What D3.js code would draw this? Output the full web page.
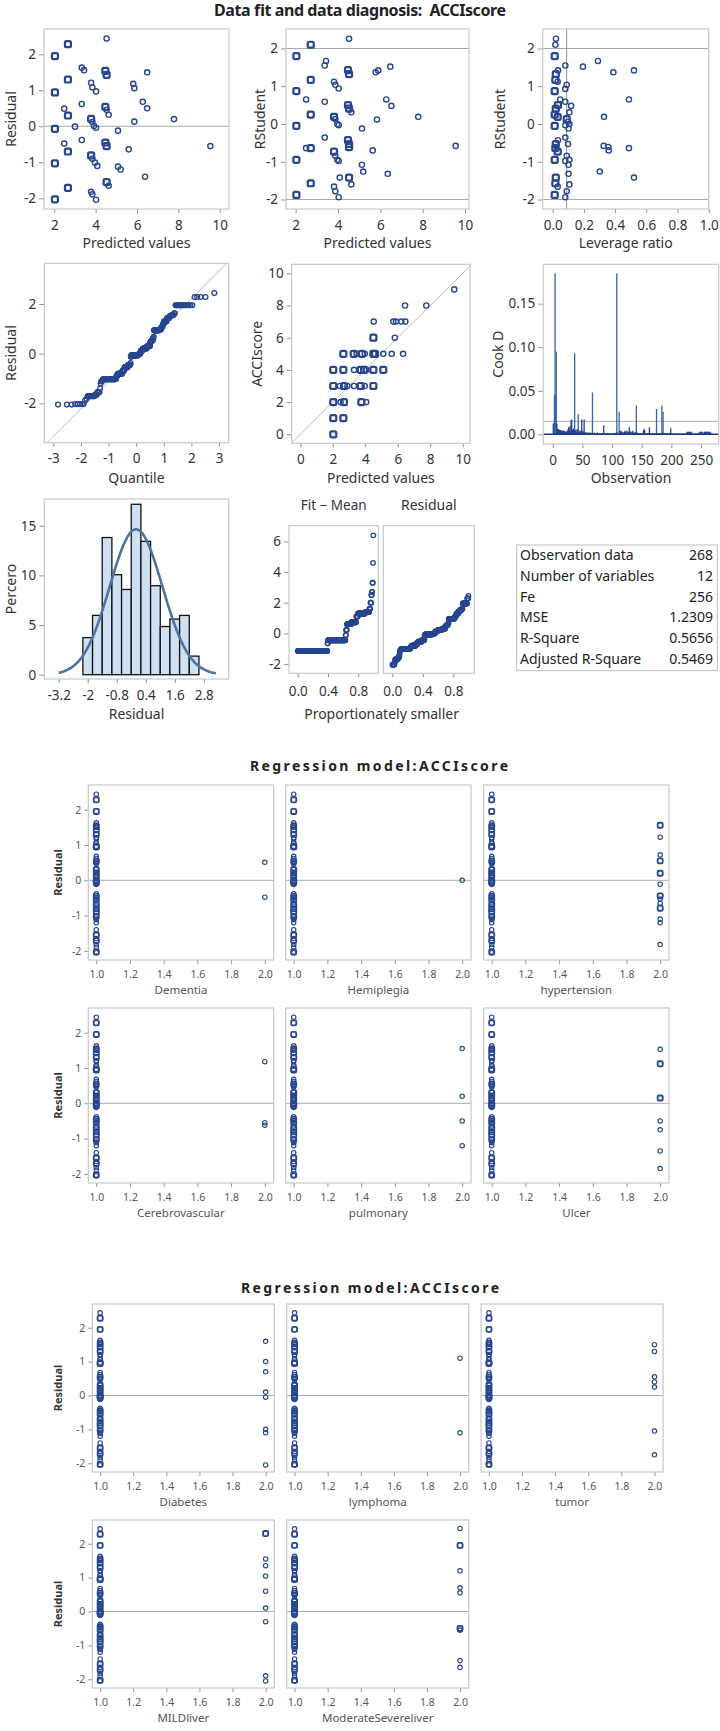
<!DOCTYPE html>
<html><head><meta charset="utf-8">
<script src="https://cdn.jsdelivr.net/npm/d3@7"></script>
<style>body{margin:0;background:#fff}</style>
</head><body>
<script>
// ---------------- DATA ----------------
// Panel 1: predicted vs residual (n = overlapping observations)
const p1Pred  = [2.03,2.03,2.03,2.03,2.03,2.66,2.66,2.66,2.66,2.66,2.48,2.48,3.0,3.33,3.44,3.33,3.33,3.78,3.84,4.02,3.78,3.84,3.92,4.02,3.78,3.84,3.97,4.08,3.78,3.84,4.02,4.53,4.47,4.53,4.47,4.53,4.63,4.47,4.53,4.53,4.63,5.08,5.08,5.21,5.6,5.82,5.87,5.87,6.28,6.49,6.49,6.39,7.79,9.55];
const p1Resid = [1.95,0.94,-0.07,-1.03,-2.03,2.28,1.3,0.3,-0.7,-1.71,0.49,-0.48,-0.01,1.63,1.56,0.62,-0.38,1.21,1.08,0.97,0.21,0.12,0.01,-0.04,-0.81,-0.9,-1.01,-1.1,-1.82,-1.89,-2.04,2.44,1.54,1.43,0.54,0.46,0.32,-0.45,-0.55,-1.55,-1.65,-0.12,-1.12,-1.2,-0.64,1.18,1.06,0.13,0.68,1.5,0.5,-1.4,0.2,-0.55];
const p1N     = [5,5,5,5,5,4,4,4,4,4,1,1,1,1,1,1,1,1,1,1,3,1,1,1,3,1,1,1,1,1,1,1,3,3,3,1,1,3,3,3,1,1,1,1,1,1,1,1,1,1,1,1,1,1];
// Panel 2: predicted vs RStudent
const p2Pred  = [2.03,2.03,2.03,2.03,2.03,2.71,2.71,2.71,2.49,2.71,2.71,2.49,3.43,3.37,3.37,3.37,3.81,3.87,4.03,3.81,3.87,3.97,4.03,3.81,3.87,3.97,4.03,4.08,3.81,3.87,4.03,4.52,4.47,4.52,4.47,4.52,4.63,4.47,4.52,4.52,4.52,4.63,5.13,5.13,5.19,5.64,5.78,5.9,5.84,6.28,6.52,6.47,6.35,7.79,9.56];
const p2RStud = [1.8,0.87,-0.05,-0.95,-1.88,2.1,1.17,0.25,-0.64,-0.64,-1.57,0.65,1.67,1.55,0.59,-0.36,1.12,1.04,0.94,0.19,0.13,0.0,-0.03,-0.73,-0.84,-0.95,-0.98,-1.42,-1.66,-1.78,-1.94,2.26,1.43,1.32,0.5,0.41,0.31,-0.43,-0.53,-0.61,-1.42,-1.6,-0.12,-1.08,-1.26,-0.7,1.37,1.42,0.12,0.65,0.48,1.52,-1.32,0.19,-0.58];
const p2N     = [5,5,5,5,5,4,4,4,1,4,4,1,1,1,1,1,1,1,1,3,1,1,1,3,1,1,1,1,1,1,1,1,3,3,3,3,1,3,3,3,3,1,1,1,1,1,1,1,1,1,1,1,1,1,1];
// Panel 3: leverage vs RStudent
const p3Lev   = [0.021,0.017,0.013,0.013,0.013,0.013,0.013,0.081,0.034,0.02,0.017,0.032,0.09,0.081,0.048,0.081,0.034,0.02,0.118,0.107,0.013,0.032,0.09,0.098,0.107,0.081,0.102,0.081,0.034,0.098,0.02,0.017,0.032,0.09,0.081,0.107,0.102,0.102,0.107,0.02,0.017,0.032,0.09,0.081,0.194,0.29,0.389,0.521,0.489,0.329,0.327,0.357,0.359,0.489,0.302,0.521];
const p3RStud = [2.26,2.1,1.8,0.87,-0.05,-0.95,-1.88,1.55,1.42,1.32,1.17,1.12,1.04,0.93,0.65,0.59,0.5,0.41,0.48,0.31,0.25,0.19,0.13,0.06,0.0,-0.03,-0.12,-0.36,-0.43,-0.53,-0.53,-0.64,-0.73,-0.84,-0.98,-0.95,-1.08,-1.32,-1.6,-1.42,-1.57,-1.66,-1.78,-1.94,1.52,1.67,1.37,1.42,0.65,0.19,-0.58,-0.61,-0.7,-0.64,-1.26,-1.42];
const p3N     = [1,1,5,5,5,5,5,1,1,3,3,1,1,1,1,1,3,3,1,1,3,3,3,1,1,1,1,1,1,1,3,3,3,1,1,1,1,1,1,3,3,1,1,1,1,1,1,1,1,1,1,1,1,1,1,1];
const levCut = 0.0896;
// Residual distribution (levels and number of observations at each level)
const residLevels = [-2.05,-2.03,-1.89,-1.82,-1.71,-1.65,-1.55,-1.4,-1.2,-1.12,-1.1,-1.03,-1.01,-0.9,-0.81,-0.7,-0.64,-0.55,-0.48,-0.45,-0.38,-0.12,-0.07,-0.04,-0.01,0.01,0.12,0.13,0.2,0.21,0.3,0.32,0.46,0.49,0.5,0.54,0.62,0.68,0.94,0.97,1.06,1.08,1.18,1.21,1.3,1.43,1.5,1.54,1.56,1.63,1.95,2.28,2.44];
const residCounts = [3,5,1,1,8,3,4,1,1,1,2,31,2,4,15,6,2,12,2,8,1,2,25,4,3,4,5,3,1,14,10,2,2,2,1,4,2,1,16,5,2,2,1,2,6,5,2,4,2,2,16,4,1];
const rootMSE = 1.1095;
// Panel 5: predicted vs ACCIscore
const p5Pred  = [9.48,6.45,7.76,4.52,5.73,5.89,6.22,6.47,4.5,5.82,2.65,3.29,3.47,3.8,3.97,4.5,4.6,5.11,5.63,6.33,2.03,2.65,3.31,3.72,3.93,4.06,4.5,5.11,2.03,2.44,2.69,2.9,3.31,3.72,3.97,4.5,2.03,2.48,2.69,3.76,4.06,2.03,2.65,2.03];
const p5Score = [9,8,8,7,7,7,7,7,6,6,5,5,5,5,5,5,5,5,5,5,4,4,4,4,4,4,4,4,3,3,3,3,3,3,3,3,2,2,2,2,2,1,1,0];
const p5N     = [1,1,1,1,1,1,1,1,3,1,3,3,1,3,1,3,3,1,1,1,3,3,1,3,3,1,3,3,3,1,3,1,1,3,1,3,3,1,3,3,1,3,3,3];
// Panel 6: Cook's D by observation (1..268)
const cookD = [0.012,0.013,0.045,0.185,0.046,0.095,0.012,0.006,0.005,0.006,
0.004,0.005,0.004,0.005,0.004,0.004,0.003,0.004,0.003,0.004,
0.003,0.002,0.003,0.004,0.002,0.006,0.008,0.004,0.009,0.003,
0.016,0.017,0.005,0.004,0.007,0.006,0.093,0.005,0.004,0.003,
0.006,0.004,0.023,0.005,0.003,0.002,0.004,0.003,0.017,0.002,
0.004,0.002,0.017,0.003,0.002,0.001,0.002,0.001,0.002,0.001,
0.002,0.001,0.001,0.002,0.001,0.001,0.048,0.001,0.001,0.002,
0.001,0.001,0.001,0.001,0.002,0.001,0.001,0.001,0.001,0.001,
0.001,0.001,0.001,0.001,0.001,0.010,0.001,0.001,0.001,0.001,
0.001,0.001,0.001,0.001,0.001,0.001,0.001,0.001,0.001,0.001,
0.001,0.001,0.001,0.001,0.001,0.001,0.002,0.185,0.002,0.001,
0.001,0.026,0.004,0.003,0.004,0.002,0.003,0.002,0.001,0.002,
0.003,0.004,0.002,0.003,0.004,0.002,0.001,0.003,0.008,0.004,
0.002,0.003,0.001,0.002,0.004,0.002,0.001,0.002,0.001,0.003,
0.033,0.002,0.001,0.001,0.001,0.001,0.001,0.001,0.001,0.001,
0.001,0.001,0.004,0.006,0.005,0.001,0.001,0.001,0.001,0.001,
0.001,0.001,0.008,0.001,0.001,0.001,0.001,0.001,0.001,0.001,
0.001,0.001,0.001,0.001,0.029,0.001,0.001,0.001,0.001,0.001,
0.001,0.001,0.001,0.033,0.002,0.026,0.001,0.001,0.001,0.001,
0.001,0.001,0.001,0.001,0.001,0.001,0.001,0.001,0.007,0.001,
0.0005,0.0005,0.0005,0.0005,0.0005,0.0005,0.0005,0.0005,0.0005,0.0005,
0.0005,0.0005,0.0005,0.0005,0.0005,0.0005,0.0005,0.0005,0.0005,0.0005,
0.0005,0.0005,0.0005,0.0005,0.0005,0.002,0.003,0.002,0.003,0.002,
0.003,0.002,0.003,0.002,0.0005,0.0005,0.0005,0.0005,0.0005,0.0005,
0.0005,0.0005,0.0005,0.0005,0.0005,0.0005,0.002,0.003,0.002,0.003,
0.002,0.003,0.0005,0.0005,0.002,0.003,0.003,0.002,0.003,0.003,
0.002,0.003,0.003,0.002,0.003,0.002,0.001,0.0005];
const cookCut = 0.0149;
// Panel 7: histogram of residuals (percent per bin)
const histStart = -2.2, histWidth = 0.4;
const histPct = [3.73,5.97,13.81,10.07,8.58,17.16,13.43,8.96,4.85,5.60,5.97,1.87];
const normMean = 0, normSigma = 1.09;
// Panel 8: Fit - Mean distribution
const fitLevels = [-1.15,-0.65,-0.45,-0.12,0.22,0.6,0.72,1.1,1.3,1.4,1.6,2.0,2.5,2.7,3.3,4.6,6.4];
const fitCounts = [105,2,62,2,3,15,18,6,26,14,4,3,2,2,2,1,1];
// Fit statistics table
const statLabels = ["Observation data","Number of variables","Fe","MSE","R-Square","Adjusted R-Square"];
const statValues = ["268","12","256","1.2309","0.5656","0.5469"];
// Residual-by-regressor panels: residuals of observations with value 2.0
const block2 = [
  {name:"Dementia", r:[0.51,-0.48], n:[1,1]},
  {name:"Hemiplegia", r:[0.0], n:[1]},
  {name:"hypertension", r:[1.56,1.22,0.72,0.55,0.2,-0.11,-0.44,-0.53,-0.65,-0.79,-1.1,-1.2,-1.82], n:[2,1,1,2,2,1,2,1,1,2,1,1,1]},
  {name:"Cerebrovascular", r:[1.18,-0.55,-0.62], n:[1,1,1]},
  {name:"pulmonary", r:[1.55,0.2,-0.5,-1.2], n:[1,1,1,1]},
  {name:"Ulcer", r:[1.53,1.12,0.15,-0.5,-0.75,-1.35,-1.85], n:[1,2,2,1,1,1,1]}
];
const block3 = [
  {name:"Diabetes", r:[1.6,1.0,0.7,0.1,-0.05,-1.0,-1.1,-2.05], n:[1,1,1,1,1,1,1,1]},
  {name:"lymphoma", r:[1.1,-1.1], n:[1,1]},
  {name:"tumor", r:[1.5,1.3,0.55,0.4,0.25,-1.05,-1.75], n:[1,1,1,1,1,1,1]},
  {name:"MILDliver", r:[2.3,1.55,1.35,1.05,0.6,0.1,-0.3,-1.9,-2.05], n:[2,1,1,1,1,1,1,1,1]},
  {name:"ModerateSevereliver", r:[2.45,1.95,1.2,0.7,0.55,-0.5,-0.55,-1.45,-1.65], n:[1,2,1,1,1,2,1,1,1]}
];
const regXTicks = [1.0,1.2,1.4,1.6,1.8,2.0];

// ---------------- DRAWING ----------------
const FONT = "'Noto Sans','Open Sans',sans-serif";
const C_MARK = "#27468f", C_FRAME = "#c4c9cf", C_REF = "#a3a9b0", C_TICK = "#8e949a", C_TEXT = "#333";
const svg = d3.select("body").append("svg").attr("width",720).attr("height",1731)
  .style("font-family", FONT);
let clipN = 0;

function panel(o) {
  const x = d3.scaleLinear().domain(o.xd).range([o.x0, o.x0 + o.w]);
  const y = d3.scaleLinear().domain(o.yd).range([o.y0 + o.h, o.y0]);
  const id = "clip" + (clipN++);
  svg.append("clipPath").attr("id", id).append("rect")
    .attr("x", o.x0).attr("y", o.y0).attr("width", o.w).attr("height", o.h);
  const outer = svg.append("g");
  const inner = outer.append("g").attr("clip-path", `url(#${id})`);
  const fs = o.fs || 13.5;
  const tc = o.tc || C_TEXT;
  if (o.xt) {
    const ax = outer.append("g").attr("transform", `translate(0,${o.y0 + o.h})`)
      .call(d3.axisBottom(x).tickValues(o.xt).tickFormat(o.xf || (d => String(d)))
        .tickSize(o.tl || 4).tickSizeOuter(0).tickPadding(o.xp || 7));
    ax.select(".domain").remove();
    ax.selectAll("line").attr("stroke", C_TICK);
    ax.selectAll("text").attr("fill", tc).style("font-size", fs + "px").style("font-family", FONT);
  }
  if (o.yt) {
    const ay = outer.append("g").attr("transform", `translate(${o.x0},0)`)
      .call(d3.axisLeft(y).tickValues(o.yt).tickFormat(o.yf || (d => String(d)))
        .tickSize(o.tl || 5).tickSizeOuter(0).tickPadding(3));
    ay.select(".domain").remove();
    ay.selectAll("line").attr("stroke", C_TICK);
    ay.selectAll("text").attr("fill", tc).style("font-size", fs + "px").style("font-family", FONT);
  }
  outer.append("rect").attr("x", o.x0).attr("y", o.y0).attr("width", o.w).attr("height", o.h)
    .attr("fill", "none").attr("stroke", C_FRAME).attr("stroke-width", 1.2);
  const lfs = o.lfs || 14;
  if (o.xl) outer.append("text").attr("x", o.x0 + o.w / 2).attr("y", o.xly).attr("dy", "0.35em")
    .attr("text-anchor", "middle").attr("fill", tc).style("font-size", lfs + "px").text(o.xl);
  if (o.yl) outer.append("text").attr("transform", `translate(${o.ylx},${o.y0 + o.h / 2}) rotate(-90)`)
    .attr("text-anchor", "middle").attr("fill", o.ylc || tc).style("font-size", (o.ylfs || lfs) + "px")
    .style("font-weight", o.ylw || "normal").text(o.yl);
  return {g: inner, x, y};
}
function hline(p, v, color, w) {
  p.g.append("line").attr("x1", p.x.range()[0]).attr("x2", p.x.range()[1])
    .attr("y1", p.y(v)).attr("y2", p.y(v)).attr("stroke", color || C_REF).attr("stroke-width", w || 1);
}
function vline(p, v, color) {
  p.g.append("line").attr("y1", p.y.range()[0]).attr("y2", p.y.range()[1])
    .attr("x1", p.x(v)).attr("x2", p.x(v)).attr("stroke", color || C_REF).attr("stroke-width", 1);
}
function markers(p, xs, ys, ns, r, sw) {
  const pts = xs.map((v, i) => ({x: v, y: ys[i], n: ns ? ns[i] : 1}));
  p.g.selectAll(null).data(pts.filter(d => d.n <= 1)).join("circle")
    .attr("cx", d => p.x(d.x)).attr("cy", d => p.y(d.y)).attr("r", r)
    .attr("fill", "none").attr("stroke", C_MARK).attr("stroke-width", sw);
  const s = r * 2.3;
  p.g.selectAll(null).data(pts.filter(d => d.n > 1)).join("rect")
    .attr("x", d => p.x(d.x) - s / 2).attr("y", d => p.y(d.y) - s / 2)
    .attr("width", s).attr("height", s).attr("rx", r * 0.6)
    .attr("fill", "none").attr("stroke", C_MARK).attr("stroke-width", sw * 1.6);
}
function probit(p) {
  const a=[-3.969683028665376e+01,2.209460984245205e+02,-2.759285104469687e+02,1.383577518672690e+02,-3.066479806614716e+01,2.506628277459239e+00];
  const b=[-5.447609879822406e+01,1.615858368580409e+02,-1.556989798598866e+02,6.680131188771972e+01,-1.328068155288572e+01];
  const c=[-7.784894002430293e-03,-3.223964580411365e-01,-2.400758277161838e+00,-2.549732539343734e+00,4.374664141464968e+00,2.938163982698783e+00];
  const d=[7.784695709041462e-03,3.224671290700398e-01,2.445134137142996e+00,3.754408661907416e+00];
  const pl = 0.02425; let q, r;
  if (p < pl) { q = Math.sqrt(-2*Math.log(p)); return (((((c[0]*q+c[1])*q+c[2])*q+c[3])*q+c[4])*q+c[5])/((((d[0]*q+d[1])*q+d[2])*q+d[3])*q+1); }
  if (p <= 1 - pl) { q = p - 0.5; r = q*q; return (((((a[0]*r+a[1])*r+a[2])*r+a[3])*r+a[4])*r+a[5])*q/(((((b[0]*r+b[1])*r+b[2])*r+b[3])*r+b[4])*r+1); }
  q = Math.sqrt(-2*Math.log(1-p)); return -(((((c[0]*q+c[1])*q+c[2])*q+c[3])*q+c[4])*q+c[5])/((((d[0]*q+d[1])*q+d[2])*q+d[3])*q+1);
}
const expand = (lv, ct) => lv.flatMap((v, i) => d3.range(ct[i]).map(() => v));
const sortedResid = expand(residLevels, residCounts);
const sortedFit = expand(fitLevels, fitCounts);
const N = sortedResid.length;

// Title
svg.append("text").attr("x", 360).attr("y", 10).attr("dy", "0.35em").attr("text-anchor", "middle")
  .attr("fill", "#222").style("font-size", "16px").style("font-weight", "bold").style("white-space", "pre")
  .attr("textLength", 292).text("Data fit and data diagnosis:  ACCIscore");

const int5 = [-2,-1,0,1,2];
// P1
const P1 = panel({x0:44, y0:29, w:185, h:180, xd:[1.502,10.45], yd:[-2.297,2.703], xt:[2,4,6,8,10], yt:int5,
  xl:"Predicted values", xly:243, yl:"Residual", ylx:15.5});
hline(P1, 0);
markers(P1, p1Pred, p1Resid, p1N, 2.6, 1.4);
// P2
const P2 = panel({x0:286, y0:29, w:183, h:180, xd:[1.54,10.19], yd:[-2.252,2.517], xt:[2,4,6,8,10], yt:int5,
  xl:"Predicted values", xly:243, yl:"RStudent", ylx:265});
hline(P2, 2); hline(P2, -2);
markers(P2, p2Pred, p2RStud, p2N, 2.6, 1.4);
// P3
const P3 = panel({x0:542.7, y0:29, w:166, h:180, xd:[-0.064,1.0], yd:[-2.252,2.517], xt:[0,0.2,0.4,0.6,0.8,1.0], xf:d=>d.toFixed(1), yt:int5,
  xl:"Leverage ratio", xly:243, yl:"RStudent", ylx:505});
hline(P3, 2); hline(P3, -2); vline(P3, levCut, "#8c9298");
markers(P3, p3Lev, p3RStud, p3N, 2.6, 1.4);
// P4 QQ
const P4 = panel({x0:44.3, y0:263.3, w:184.4, h:179.4, xd:[-3.326,3.35], yd:[-3.585,3.64], xt:[-3,-2,-1,0,1,2,3], yt:[-2,0,2],
  xl:"Quantile", xly:478, yl:"Residual", ylx:15.5});
P4.g.append("line").attr("x1", P4.x(-3.4)).attr("y1", P4.y(-3.4*rootMSE)).attr("x2", P4.x(3.4)).attr("y2", P4.y(3.4*rootMSE))
  .attr("stroke", "#b8bdc4").attr("stroke-width", 1);
const qx = sortedResid.map((v, i) => probit((i + 1 - 0.375) / (N + 0.25)));
markers(P4, qx, sortedResid, null, 2.4, 1.3);
// P5
const P5 = panel({x0:291.7, y0:264.3, w:178.3, h:179, xd:[-0.53,10.45], yd:[-0.56,10.56], xt:[0,2,4,6,8,10], yt:[0,2,4,6,8,10],
  xl:"Predicted values", xly:478, yl:"ACCIscore", ylx:262});
P5.g.append("line").attr("x1", P5.x(-1)).attr("y1", P5.y(-1)).attr("x2", P5.x(11)).attr("y2", P5.y(11))
  .attr("stroke", "#b8bdc4").attr("stroke-width", 1);
markers(P5, p5Pred, p5Score, p5N, 2.6, 1.4);
// P6 Cook's D
const P6 = panel({x0:543.3, y0:264.3, w:175.4, h:179.7, xd:[-15.85,279.8], yd:[-0.01114,0.1952], xt:[0,50,100,150,200,250],
  yt:[0,0.05,0.10,0.15], yf:d=>d.toFixed(2), xl:"Observation", xly:478, yl:"Cook D", ylx:503});
hline(P6, cookCut, "#a9afb5");
P6.g.selectAll(null).data(cookD).join("line")
  .attr("x1", (d, i) => P6.x(i + 1)).attr("x2", (d, i) => P6.x(i + 1))
  .attr("y1", P6.y(0)).attr("y2", d => P6.y(d))
  .attr("stroke", d => d > 0.02 ? "#3a62aa" : "#24408a").attr("stroke-width", 1.3);
hline(P6, 0, "#1f3a85", 1.6);
// P7 histogram
const P7 = panel({x0:44.3, y0:499, w:184.4, h:180, xd:[-3.795,3.83], yd:[-0.433,17.69], xt:[-3.2,-2,-0.8,0.4,1.6,2.8],
  yt:[0,5,10,15], xl:"Residual", xly:714, yl:"Percero", ylx:15.5});
P7.g.selectAll(null).data(histPct).join("rect")
  .attr("x", (d, i) => P7.x(histStart + i * histWidth)).attr("width", P7.x(histWidth) - P7.x(0))
  .attr("y", d => P7.y(d)).attr("height", d => P7.y(0) - P7.y(d))
  .attr("fill", "#cfe0f3").attr("stroke", "#111").attr("stroke-width", 1.3);
const curve = d3.range(-3.2, 3.3001, 0.05).map(v => [v, 100 * histWidth * Math.exp(-0.5 * ((v - normMean) / normSigma) ** 2) / (normSigma * Math.sqrt(2 * Math.PI))]);
P7.g.append("path").datum(curve).attr("d", d3.line().x(d => P7.x(d[0])).y(d => P7.y(d[1])).curve(d3.curveBasis))
  .attr("fill", "none").attr("stroke", "#4f73a3").attr("stroke-width", 2.6);
// P8 residual-fit spread
const yd8 = [-2.61, 7.03];
const P8a = panel({x0:289, y0:525.7, w:89.3, h:147.6, xd:[-0.115,1.064], yd:yd8, xt:[0,0.4,0.8], xf:d=>d.toFixed(1),
  yt:[-2,0,2,4,6], xp:9});
const P8b = panel({x0:383.3, y0:525.7, w:91, h:147.6, xd:[-0.118,1.075], yd:yd8, xt:[0,0.4,0.8], xf:d=>d.toFixed(1), xp:9});
markers(P8a, sortedFit.map((v, i) => (i + 0.5) / N), sortedFit, null, 2.3, 1.3);
markers(P8b, sortedResid.map((v, i) => (i + 0.5) / N), sortedResid, null, 2.3, 1.3);
svg.append("text").attr("x", 333.7).attr("y", 505).attr("dy", "0.35em").attr("text-anchor", "middle")
  .attr("fill", C_TEXT).style("font-size", "13.5px").text("Fit − Mean");
svg.append("text").attr("x", 428.8).attr("y", 505).attr("dy", "0.35em").attr("text-anchor", "middle")
  .attr("fill", C_TEXT).style("font-size", "14px").text("Residual");
svg.append("text").attr("x", 381.6).attr("y", 714).attr("dy", "0.35em").attr("text-anchor", "middle")
  .attr("fill", C_TEXT).style("font-size", "14px").text("Proportionately smaller");
// Table
svg.append("rect").attr("x", 516.7).attr("y", 545).attr("width", 200.6).attr("height", 125.7)
  .attr("fill", "none").attr("stroke", "#b9bec4").attr("stroke-width", 1);
const rowY = d3.scalePoint().domain(statLabels).range([555, 659]);
svg.selectAll(null).data(statLabels).join("text").attr("x", 520).attr("y", d => rowY(d)).attr("dy", "0.35em")
  .attr("fill", "#222").style("font-size", "14px").text(d => d);
svg.selectAll(null).data(statValues).join("text").attr("x", 713).attr("y", (d, i) => rowY(statLabels[i])).attr("dy", "0.35em")
  .attr("text-anchor", "end").attr("fill", "#222").style("font-size", "14px").text(d => d);

// Regression blocks
const regDom = [0.9525, 2.0523];
const levelN = residCounts.map(c => c >= 4 ? 2 : 1);
function regBlock(list, title, titleX, titleY, cols, rows, w, h) {
  svg.append("text").attr("x", titleX).attr("y", titleY).attr("dy", "0.35em").attr("fill", "#222")
    .style("font-size", "14px").style("font-weight", "bold").attr("textLength", 258).attr("lengthAdjust", "spacing")
    .text(title);
  list.forEach((item, k) => {
    const c = k % 3, r = Math.floor(k / 3);
    const first = c === 0;
    const P = panel({x0: cols[c], y0: rows[r], w: w, h: h, xd: regDom, yd: [-2.258, 2.70], xt: regXTicks,
      xf: d => d.toFixed(1), yt: first ? int5 : null, fs: 10.5, tc: "#555", tl: 4, xp: 7,
      xl: item.name, xly: rows[r] + h + 30, lfs: 11.5,
      yl: first ? "Residual" : null, ylx: 62, ylfs: 11, ylw: "bold", ylc: "#333"});
    hline(P, 0, "#a3a9b0");
    markers(P, residLevels.map(() => 1.0), residLevels, levelN, 2.2, 1.15);
    markers(P, item.r.map(() => 2.0), item.r, item.n, 2.2, 1.15);
  });
}
regBlock(block2, "Regression model:ACCIscore", 250, 766, [88.3, 285.7, 483.7], [785, 1008], 185.3, 175);
regBlock(block3, "Regression model:ACCIscore", 241, 1288, [92.3, 286.7, 481.1], [1304, 1520], 182, 168);
</script>
</body></html>
